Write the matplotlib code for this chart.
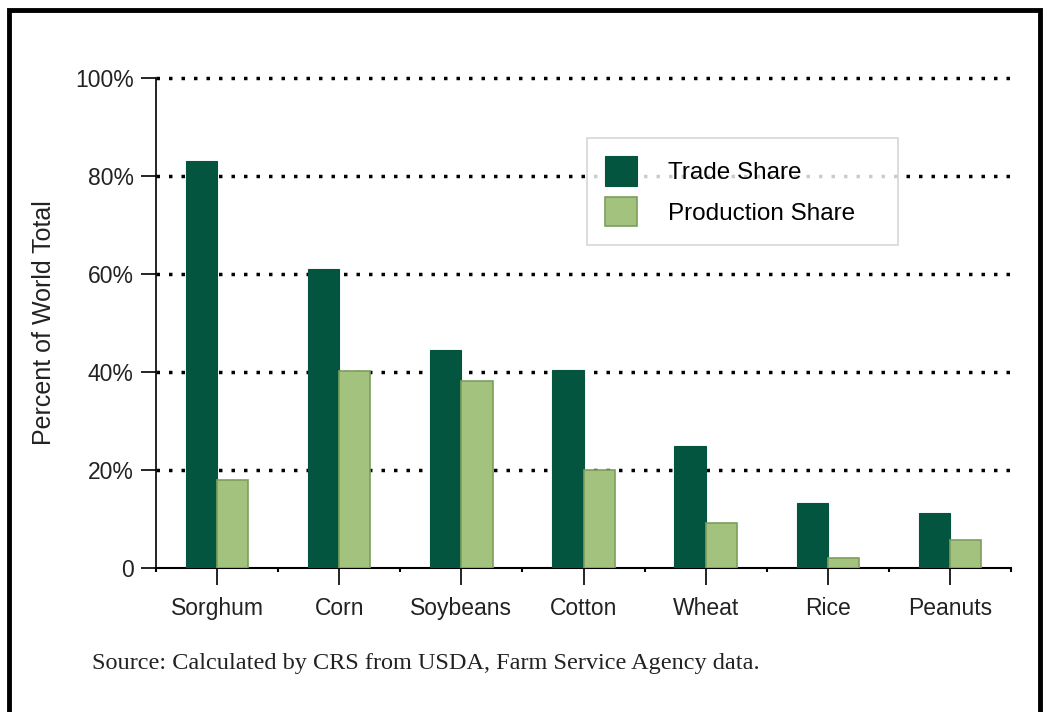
import numpy as np
import matplotlib.pyplot as plt
from matplotlib.patches import Rectangle
from matplotlib.ticker import FixedLocator

crops = ['Sorghum', 'Corn', 'Soybeans', 'Cotton', 'Wheat', 'Rice', 'Peanuts']
trade_share = [83, 61, 44.5, 40.5, 25, 13.3, 11.2]
production_share = [18, 40.2, 38.2, 20, 9.2, 2.1, 5.7]
ytick_labels = ['0', '20%', '40%', '60%', '80%', '100%']

dark = '#03553F'
light = '#A2C27D'
light_edge = '#7C9F5B'

plt.rcParams['font.family'] = ['Liberation Sans', 'DejaVu Sans']

fig = plt.figure(figsize=(10.48, 7.12), dpi=100)
ax = fig.add_axes([156/1048, 144/712, 855/1048, 490/712])

x = np.arange(len(crops))
w = 0.255
ax.bar(x - w/2, trade_share, w, color=dark, edgecolor=dark, lw=0.8,
       label='Trade Share', zorder=3)
ax.bar(x + w/2, production_share, w, color=light, edgecolor=light_edge, lw=1.2,
       label='Production Share', zorder=3)

ax.set_xlim(-0.5, 6.5)
ax.set_ylim(0, 100)
ax.set_yticks([0, 20, 40, 60, 80, 100])
ax.set_yticklabels(ytick_labels, fontsize=16.5, color='#222222')
ax.set_xticks(x)
ax.set_xticklabels(crops, fontsize=16.5, color='#222222')
ax.xaxis.set_minor_locator(FixedLocator(np.arange(-0.5, 7, 1)))
ax.tick_params(axis='x', which='major', length=12, width=1.2, pad=9)
ax.tick_params(axis='x', which='minor', length=3, width=1.5)
ax.tick_params(axis='y', length=11, width=1.2, pad=5)

for v in [20, 40, 60, 80, 100]:
    ax.axhline(v, color='black', lw=2.5, linestyle=(0, (1, 2.6)), zorder=1,
               clip_on=False)

for s in ['top', 'right']:
    ax.spines[s].set_visible(False)
ax.spines['left'].set_linewidth(1.2)
ax.spines['bottom'].set_linewidth(1.5)

ax.set_ylabel('Percent of World Total', fontsize=18, color='#222222', labelpad=14)

leg = ax.legend(loc='upper left', bbox_to_anchor=(0.504, 0.5, 0.364, 0.3776),
                mode='expand', fontsize=17.5,
                frameon=True, fancybox=False, edgecolor='#cccccc',
                handlelength=1.3, handleheight=1.5, borderpad=0.75,
                handletextpad=1.3, labelspacing=0.45, borderaxespad=0)
leg.get_frame().set_linewidth(1.2)

fig.text(92/1048, 1 - 663/712, 'Source: Calculated by CRS from USDA, Farm Service Agency data.',
         family='Liberation Serif', fontsize=17.5, color='#222222', va='center')

fig.patches.append(Rectangle((9/1048, -0.05), 1031/1048, 1.05 - 10/712,
                             transform=fig.transFigure, fill=False,
                             edgecolor='black', lw=3.5))

fig.savefig('out.png', dpi=100)
